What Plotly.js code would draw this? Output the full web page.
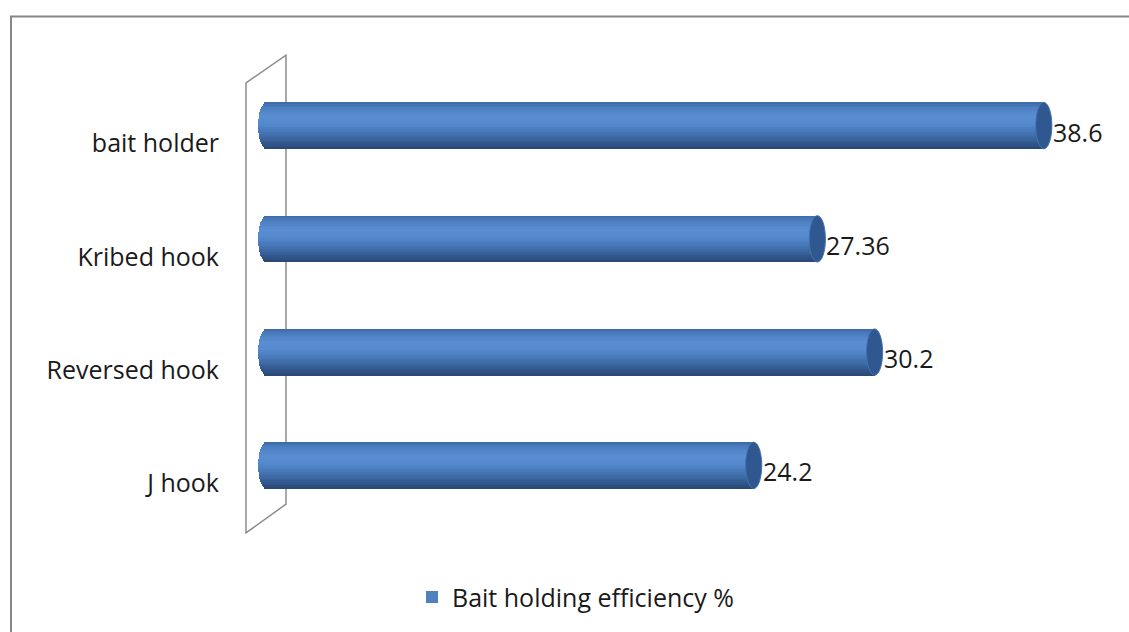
<!DOCTYPE html>
<html>
<head>
<meta charset="utf-8">
<script src="https://cdn.plot.ly/plotly-3.0.1.min.js"></script>
<style>
  html, body { margin: 0; padding: 0; background: #ffffff; }
  #chart { width: 1129px; height: 632px; }
</style>
</head>
<body>
<div id="chart"></div>
<script>
// Hook types, listed top to bottom as drawn
const categories = ['bait holder', 'Kribed hook', 'Reversed hook', 'J hook'];
// Bait holding efficiency (%) per hook type
const efficiency = [38.6, 27.36, 30.2, 24.2];
const seriesName = 'Bait holding efficiency %';

// ---- geometry (pixels) ----
const W = 1129, H = 632;
const M = { l: 246, r: 57, t: 69, b: 105 };
const plotW = W - M.l - M.r, plotH = H - M.t - M.b;
const xRange = [-1, 40];
const barWidth = 0.41;            // in category units
const capHalf = 0.4;              // half-width of the end ellipse, x units
const FONT = 'Open Sans, sans-serif';
const FSIZE = 25;

const px2paperX = p => (p - M.l) / plotW;
const px2paperY = p => 1 - (p - M.t) / plotH;

// vertical shading of the cylinder, top -> bottom
const stops = [
  [0.00, [60, 104, 166]],
  [0.12, [77, 128, 194]],
  [0.30, [89, 143, 210]],
  [0.45, [85, 139, 206]],
  [0.60, [73, 123, 188]],
  [0.75, [60, 104, 162]],
  [0.90, [48, 84, 136]],
  [1.00, [40, 70, 114]]
];
function shade(t) {
  for (let i = 1; i < stops.length; i++) {
    if (t <= stops[i][0]) {
      const [t0, c0] = stops[i - 1], [t1, c1] = stops[i];
      const f = (t - t0) / (t1 - t0);
      const c = c0.map((v, k) => Math.round(v + (c1[k] - v) * f));
      return 'rgb(' + c.join(',') + ')';
    }
  }
  return 'rgb(' + stops[stops.length - 1][1].join(',') + ')';
}

const traces = [];

// flat base bar carrying the legend entry
traces.push({
  type: 'bar', orientation: 'h',
  name: seriesName,
  x: efficiency, y: categories,
  width: barWidth,
  marker: { color: '#4f81bd', line: { width: 0 } },
  hoverinfo: 'x+y'
});

// thin horizontal bands give the cylinder its shading and rounded back end
const N = 28;
const bandW = barWidth / N;
for (let i = 0; i < N; i++) {
  const t = (i + 0.5) / N;
  const u = 2 * t - 1;
  const back = capHalf * Math.sqrt(Math.max(0, 1 - u * u));
  traces.push({
    type: 'bar', orientation: 'h',
    x: efficiency.map(v => v + back),
    base: efficiency.map(() => -back),
    y: categories,
    width: bandW * 1.15,
    offset: -barWidth / 2 + i * bandW,
    marker: { color: shade(t), line: { width: 0 } },
    showlegend: false,
    hoverinfo: 'skip'
  });
}

// end faces and value labels
const shapes = [];
const annotations = [];
efficiency.forEach((v, k) => {
  shapes.push({
    type: 'circle', xref: 'x', yref: 'y', layer: 'above',
    x0: v - capHalf, x1: v + capHalf,
    y0: k - barWidth / 2, y1: k + barWidth / 2,
    fillcolor: '#2f5890',
    line: { color: '#4471ad', width: 1 }
  });
  annotations.push({
    x: v + capHalf, y: categories[k], xref: 'x', yref: 'y',
    text: String(v), showarrow: false,
    xanchor: 'left', yanchor: 'middle',
    xshift: -1, yshift: -6,
    font: { family: FONT, size: FSIZE, color: '#1a1a1a' }
  });
});

// side wall of the 3-D category axis
const wall = [[246, 83], [286, 55], [286, 509], [246, 538]];
shapes.push({
  type: 'path', xref: 'paper', yref: 'paper', layer: 'below',
  path: 'M' + wall.map(p => px2paperX(p[0]) + ',' + px2paperY(p[1])).join(' L') + ' Z',
  line: { color: '#8c8c8c', width: 1.5 },
  fillcolor: 'rgba(0,0,0,0)'
});

// chart frame
shapes.push({
  type: 'rect', xref: 'paper', yref: 'paper', layer: 'above',
  x0: px2paperX(11), y0: px2paperY(16), x1: px2paperX(1160), y1: px2paperY(660),
  line: { color: '#878787', width: 2 },
  fillcolor: 'rgba(0,0,0,0)'
});

const layout = {
  width: W, height: H,
  margin: M,
  paper_bgcolor: '#ffffff', plot_bgcolor: 'rgba(0,0,0,0)',
  barmode: 'overlay',
  bargap: 0,
  font: { family: FONT, size: FSIZE, color: '#1a1a1a' },
  xaxis: {
    range: xRange, showgrid: false, zeroline: false,
    showticklabels: false, showline: false, ticks: '', fixedrange: true
  },
  yaxis: {
    type: 'category', categoryorder: 'array', categoryarray: categories,
    range: [3.5, -0.5],
    showgrid: false, zeroline: false, showline: false, ticks: '',
    ticklabelstandoff: 26, ticklabelshift: -18,
    tickfont: { family: FONT, size: FSIZE, color: '#1a1a1a' },
    fixedrange: true
  },
  showlegend: true,
  legend: {
    orientation: 'h',
    x: px2paperX(412), xanchor: 'left',
    y: px2paperY(603), yanchor: 'middle',
    font: { family: FONT, size: FSIZE, color: '#1a1a1a' },
    bgcolor: 'rgba(0,0,0,0)'
  },
  shapes: shapes,
  annotations: annotations
};

Plotly.newPlot('chart', traces, layout, { displayModeBar: false, staticPlot: true });
</script>
</body>
</html>
